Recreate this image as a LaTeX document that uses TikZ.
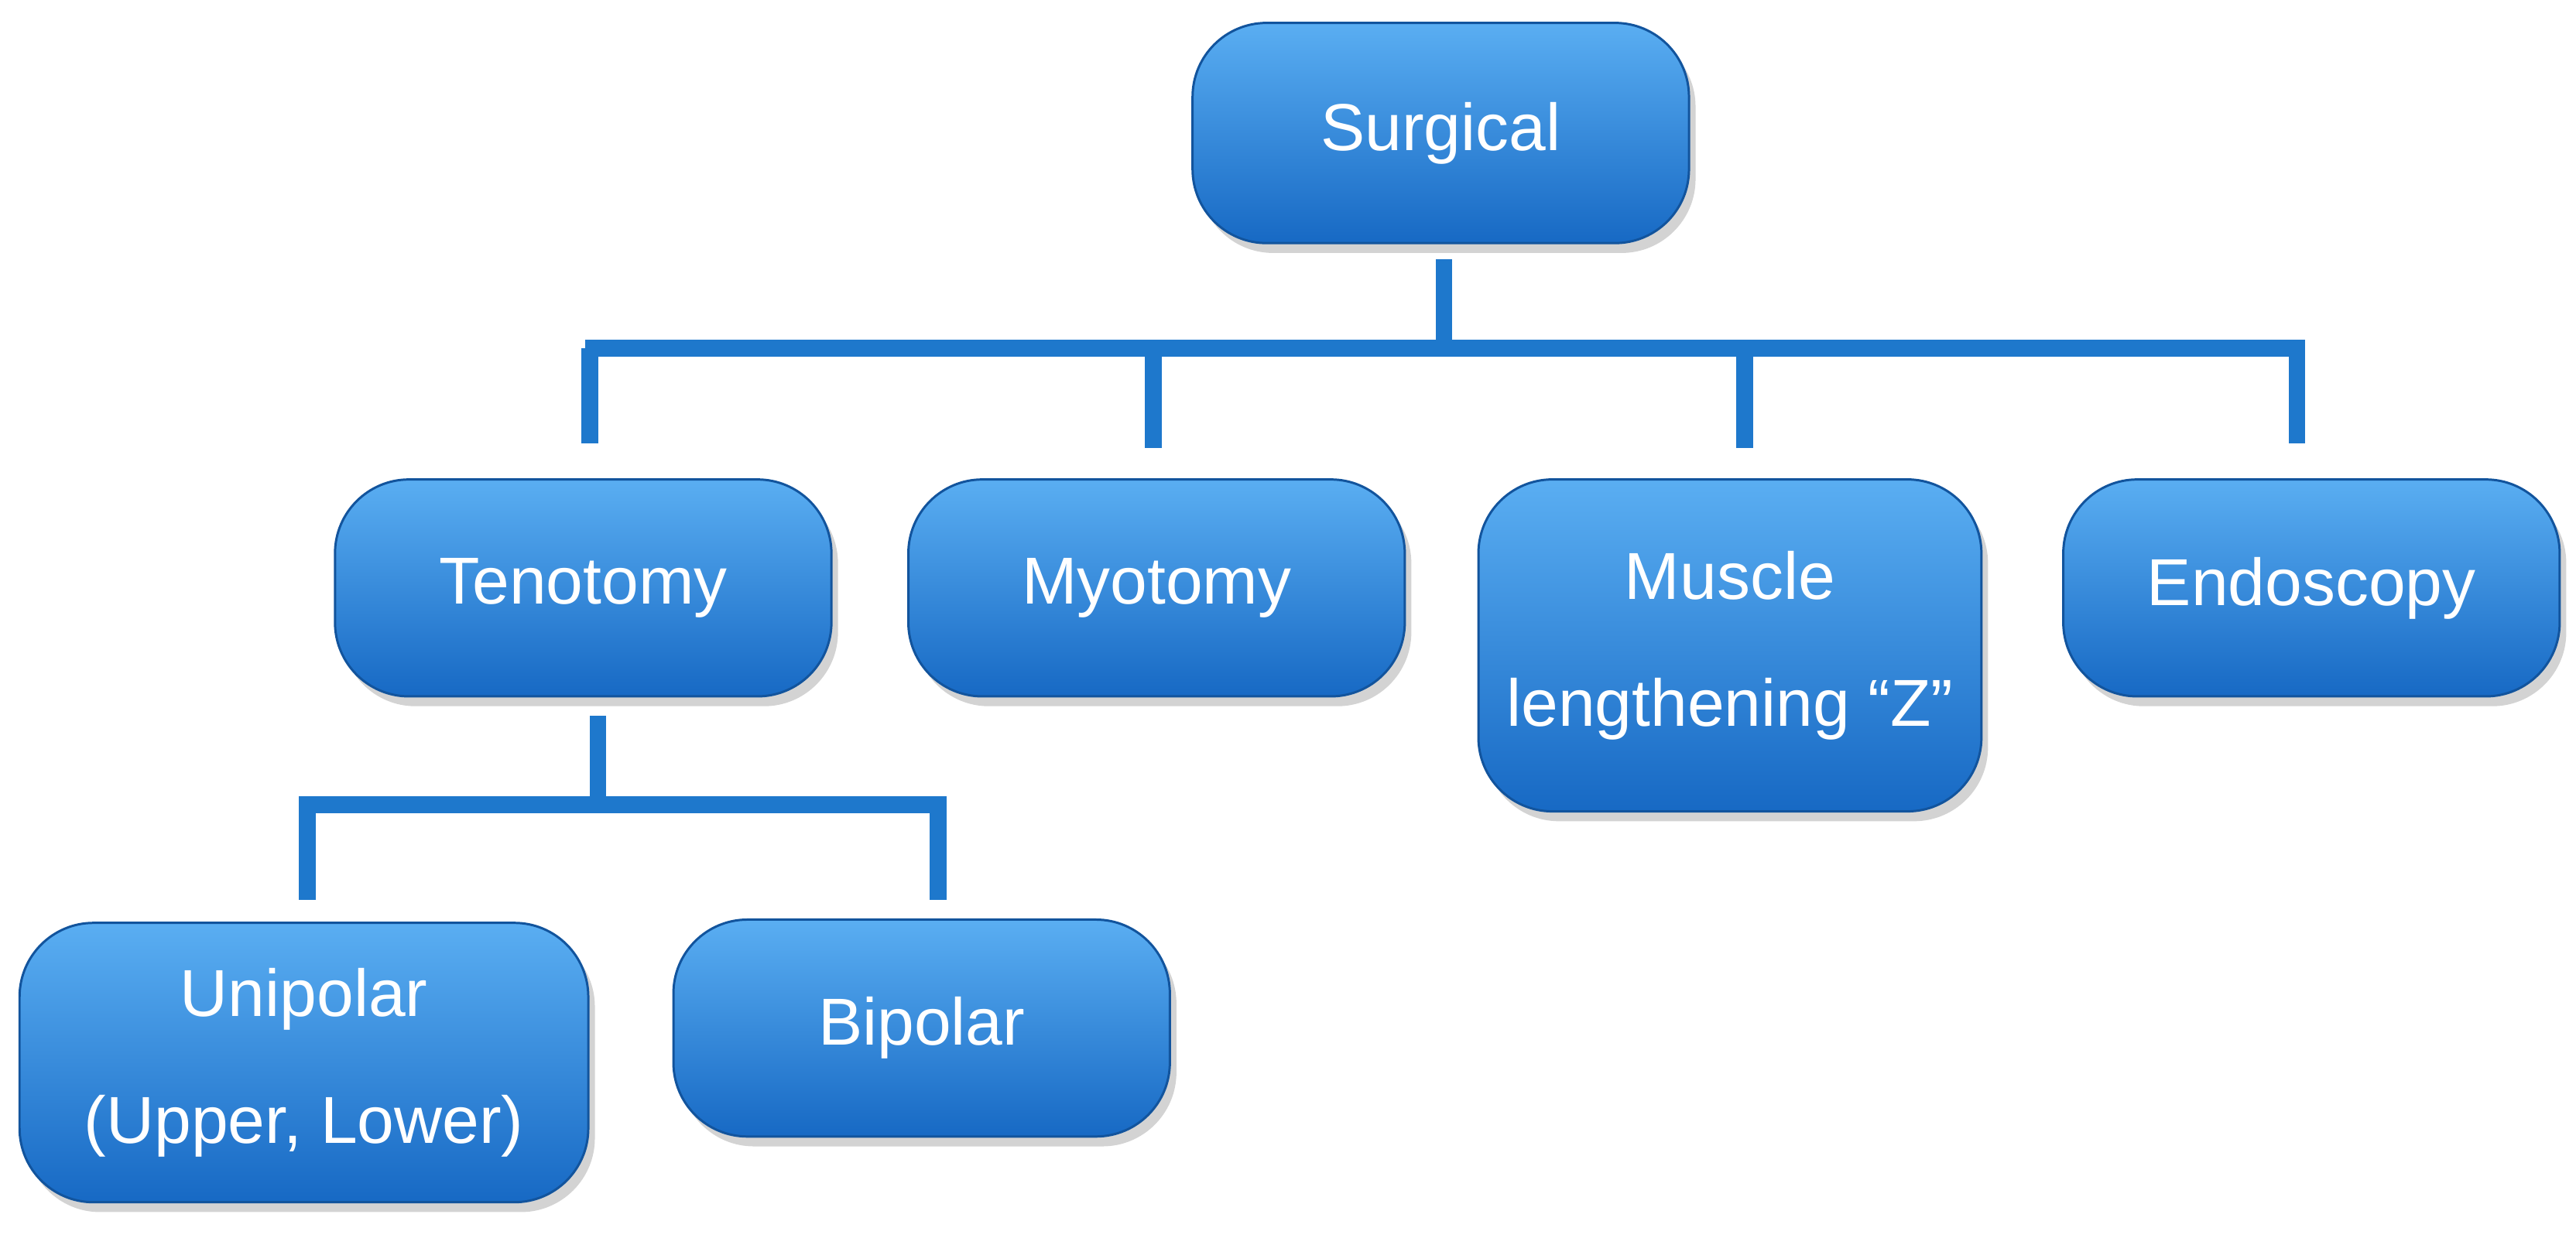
\documentclass[tikz,border=0pt]{standalone}
\usepackage{fontspec}
\setmainfont{Liberation Sans}
\usetikzlibrary{shadows}
\begin{document}
\begin{tikzpicture}[x=0.01cm,y=-0.01cm,
 box/.style={rounded corners=0.45cm, top color=blue1, bottom color=blue2, draw=blue2!80!black, line width=0.4pt,
   drop shadow={shadow xshift=0.04cm,shadow yshift=-0.06cm,opacity=0.35}, text=white, align=center,
   font=\fontsize{11.5}{22}\selectfont, inner sep=0pt},
 conn/.style={draw=lineblue, line width=0.1cm}]
\definecolor{blue1}{HTML}{5AAEF2}
\definecolor{blue2}{HTML}{1769C4}
\definecolor{lineblue}{HTML}{1E78CC}
\useasboundingbox (0,0) rectangle (1568,758);
\node[box, minimum width=3.02cm, minimum height=1.34cm] (s) at (877,81) {Surgical};
\node[box, minimum width=3.02cm, minimum height=1.32cm] (t) at (355,358) {Tenotomy};
\node[box, minimum width=3.02cm, minimum height=1.32cm] (m) at (704,358) {Myotomy};
\node[box, minimum width=3.06cm, minimum height=2.02cm] (z) at (1053,393) {Muscle\\lengthening “Z”};
\node[box, minimum width=3.02cm, minimum height=1.32cm] (e) at (1407,358) {Endoscopy};
\node[box, minimum width=3.46cm, minimum height=1.70cm] (u) at (185,647) {Unipolar\\(Upper, Lower)};
\node[box, minimum width=3.02cm, minimum height=1.32cm] (b) at (561,626) {Bipolar};
\coordinate (s0) at (879,158);
\coordinate (sj) at (879,212);
\coordinate (h1) at (356,212);
\coordinate (h2) at (1403,212);
\coordinate (d1) at (359,212); \coordinate (e1) at (359,270);
\coordinate (d2) at (702,212); \coordinate (e2) at (702,273);
\coordinate (d3) at (1062,212); \coordinate (e3) at (1062,273);
\coordinate (d4) at (1398,212); \coordinate (e4) at (1398,270);
\draw[conn] (s0) -- (sj);
\draw[conn] (h1) -- (h2);
\draw[conn] (d1) -- (e1);
\draw[conn] (d2) -- (e2);
\draw[conn] (d3) -- (e3);
\draw[conn] (d4) -- (e4);
\coordinate (t0) at (364,436);
\coordinate (tj) at (364,490);
\coordinate (g1) at (182,490);
\coordinate (g2) at (576,490);
\coordinate (f1) at (187,490); \coordinate (k1) at (187,548);
\coordinate (f2) at (571,490); \coordinate (k2) at (571,548);
\draw[conn] (t0) -- (tj);
\draw[conn] (g1) -- (g2);
\draw[conn] (f1) -- (k1);
\draw[conn] (f2) -- (k2);
\end{tikzpicture}
\end{document}
